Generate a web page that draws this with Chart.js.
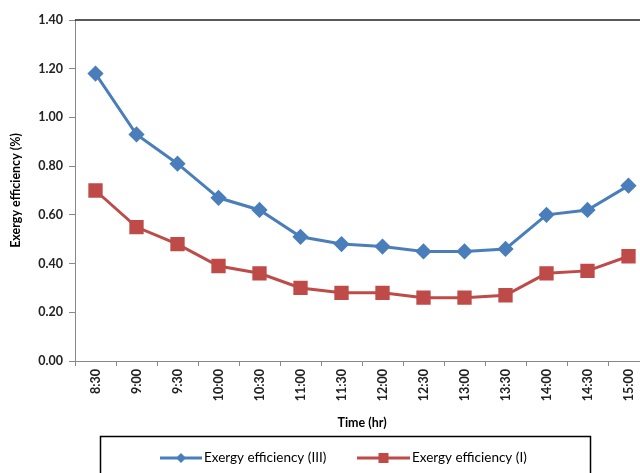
<!DOCTYPE html>
<html lang="en">
<head>
  <meta charset="UTF-8" />
  <title>Exergy efficiency</title>
  <script src="https://cdn.jsdelivr.net/npm/chart.js"></script>
  <style>
    html, body { margin: 0; padding: 0; background: #fff; overflow: hidden; }
    #wrap { width: 660px; height: 490px; }
  </style>
</head>
<body>
  <div id="wrap"><canvas id="chart" width="660" height="490"></canvas></div>
  <script>
    const times = ["8:30", "9:00", "9:30", "10:00", "10:30", "11:00", "11:30", "12:00", "12:30", "13:00", "13:30", "14:00", "14:30", "15:00"];
    const exergyIII = [1.18, 0.93, 0.81, 0.67, 0.62, 0.51, 0.48, 0.47, 0.45, 0.45, 0.46, 0.60, 0.62, 0.72];
    const exergyI = [0.70, 0.55, 0.48, 0.39, 0.36, 0.30, 0.28, 0.28, 0.26, 0.26, 0.27, 0.36, 0.37, 0.43];

    const FONT = "Lato, 'Open Sans', sans-serif";
    const BLUE = "#4a7ebb";
    const RED = "#be4b48";

    // top border of the plot area + boxed legend under the axis title
    const frameAndLegend = {
      id: "frameAndLegend",
      afterDraw(chart) {
        const { ctx, chartArea } = chart;
        ctx.save();
        ctx.strokeStyle = "#222";
        ctx.lineWidth = 1.5;
        ctx.beginPath();
        ctx.moveTo(chartArea.left, chartArea.top);
        ctx.lineTo(chartArea.right, chartArea.top);
        ctx.stroke();

        ctx.strokeStyle = "#000";
        ctx.lineWidth = 1.5;
        ctx.strokeRect(100.5, 436.5, 490, 60);

        const y = 458;
        const items = [
          { x: 160, w: 42, ds: chart.data.datasets[0] },
          { x: 357, w: 53, ds: chart.data.datasets[1] }
        ];
        ctx.font = "13.5px " + FONT;
        ctx.textBaseline = "middle";
        items.forEach(it => {
          ctx.strokeStyle = it.ds.borderColor;
          ctx.lineWidth = 3;
          ctx.beginPath();
          ctx.moveTo(it.x, y);
          ctx.lineTo(it.x + it.w, y);
          ctx.stroke();
          ctx.fillStyle = it.ds.backgroundColor;
          const cx = it.x + it.w / 2;
          if (it.ds.pointStyle === "rect") {
            ctx.fillRect(cx - 5, y - 5, 10, 10);
          } else {
            ctx.beginPath();
            ctx.moveTo(cx, y - 5);
            ctx.lineTo(cx + 5, y);
            ctx.lineTo(cx, y + 5);
            ctx.lineTo(cx - 5, y);
            ctx.closePath();
            ctx.fill();
          }
          ctx.fillStyle = "#000";
          ctx.fillText(it.ds.label, it.x + it.w + 2, y);
        });
        ctx.restore();
      }
    };

    new Chart(document.getElementById("chart"), {
      type: "line",
      data: {
        labels: times,
        datasets: [
          {
            label: "Exergy efficiency (III)",
            data: exergyIII,
            borderColor: BLUE,
            backgroundColor: BLUE,
            borderWidth: 3,
            pointStyle: "rectRot",
            pointRadius: 6,
            tension: 0
          },
          {
            label: "Exergy efficiency (I)",
            data: exergyI,
            borderColor: RED,
            backgroundColor: RED,
            borderWidth: 3,
            pointStyle: "rect",
            pointRadius: 8,
            tension: 0
          }
        ]
      },
      options: {
        responsive: false,
        animation: false,
        layout: { padding: { top: 20, left: 8, right: 8, bottom: 60 } },
        plugins: {
          legend: { display: false },
          tooltip: { enabled: false }
        },
        scales: {
          x: {
            offset: true,
            grid: { drawOnChartArea: false, drawTicks: true, tickLength: 5, color: "#888", offset: true },
            border: { color: "#888", width: 1 },
            ticks: {
              minRotation: 90,
              maxRotation: 90,
              color: "#222",
              font: { family: FONT, size: 12.5, weight: "bold" },
              padding: 3
            },
            title: {
              display: true,
              text: "Time (hr)",
              color: "#000",
              font: { family: FONT, size: 12.5, weight: "bold" },
              padding: { top: 24, bottom: 0 }
            },
            afterFit: s => { s.height = 69; }
          },
          y: {
            min: 0,
            max: 1.4,
            grid: { drawOnChartArea: false, drawTicks: true, tickLength: 6, color: "#888" },
            border: { color: "#888", width: 1 },
            ticks: {
              stepSize: 0.2,
              color: "#222",
              font: { family: FONT, size: 12.5, weight: "bold" },
              padding: 6,
              callback: v => Number(v).toFixed(2)
            },
            title: {
              display: true,
              text: "Exergy efficiency (%)",
              color: "#000",
              font: { family: FONT, size: 12.5, weight: "bold" },
              padding: { top: 0, bottom: 2 }
            },
            afterFit: s => { s.width = 67; }
          }
        }
      },
      plugins: [frameAndLegend]
    });
  </script>
</body>
</html>
